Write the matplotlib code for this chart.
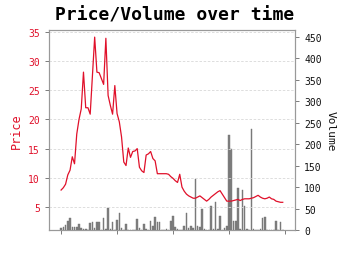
"""Price / volume over time: red price line on the left axis, grey volume bars on a twin axis."""

import numpy as np
import matplotlib
matplotlib.use("Agg")
import matplotlib.pyplot as plt

# ── data ──
price = [
    7.9, 8.3, 8.9, 10.5, 11.3, 13.6, 12.4, 17.5, 20.0, 21.8,
    28.1, 22.0, 22.0, 20.9, 27.5, 34.1, 28.1, 28.0, 27.0, 26.0,
    33.9, 24.1, 22.4, 20.9, 25.8, 21.0, 19.6, 17.0, 12.7, 12.1,
    15.1, 13.5, 14.5, 14.6, 15.0, 11.8, 11.2, 10.9, 13.9, 14.1,
    14.5, 13.3, 12.9, 10.7, 10.7, 10.7, 10.7, 10.7, 10.6, 10.2,
    9.9, 9.5, 9.2, 10.6, 8.4, 7.7, 7.2, 6.9, 6.7, 6.5,
    6.5, 6.7, 6.9, 6.6, 6.3, 6.0, 6.3, 6.7, 7.0, 7.3,
    7.6, 7.8, 7.2, 6.6, 6.0, 6.0, 6.0, 6.1, 6.2, 6.3,
    6.1, 6.3, 6.4, 6.4, 6.4, 6.5, 6.6, 6.8, 7.0, 6.7,
    6.5, 6.4, 6.5, 6.7, 6.4, 6.3, 6.0, 5.9, 5.8, 5.8,
]
volume = [
    5, 6, 12, 20, 27, 8, 6, 6, 14, 5,
    3, 2, 1, 16, 19, 4, 18, 18, 1, 29,
    3, 52, 2, 18, 1, 23, 39, 5, 0, 14,
    1, 0, 0, 1, 25, 5, 1, 14, 2, 1,
    20, 10, 30, 18, 18, 1, 0, 2, 1, 22,
    32, 8, 2, 0, 1, 9, 40, 4, 10, 4,
    118, 10, 6, 48, 3, 0, 1, 55, 3, 66,
    2, 32, 1, 5, 10, 222, 189, 20, 20, 98,
    3, 93, 57, 3, 1, 234, 3, 0, 0, 2,
    29, 30, 0, 0, 0, 0, 20, 0, 18, 0,
]
x_ticks = [0, 25, 50, 75, 100]
price_ticks = [5, 10, 15, 20, 25, 30, 35]
volume_ticks = [0, 50, 100, 150, 200, 250, 300, 350, 400, 450]

RED = "#e0102a"
GREY = "#808080"
SPINE = "#999999"
MONO = "DejaVu Sans Mono"

t = np.arange(len(price))

fig = plt.figure(figsize=(3.5, 2.55), dpi=100)
ax1 = fig.add_axes([0.14, 0.094, 0.703, 0.784])
ax2 = ax1.twinx()

ax2.bar(t, volume, width=0.7, color=GREY, edgecolor="#707070", linewidth=0.3)
ax1.plot(t, price, color=RED, linewidth=0.9)

# line above the bars
ax1.set_zorder(ax2.get_zorder() + 1)
ax1.patch.set_visible(False)

ax1.set_xlim(-5.4, 104.5)
ax1.set_ylim(1.05, 35.3)
ax2.set_ylim(0, 465)

ax1.set_xticks(x_ticks)
ax1.set_xticklabels([])
ax1.set_yticks(price_ticks)
ax2.set_yticks(volume_ticks)

ax1.yaxis.grid(True, linestyle=(0, (3, 2)), color="#d8d8d8", linewidth=0.6)
ax1.set_axisbelow(True)

for ax in (ax1, ax2):
    for sp in ax.spines.values():
        sp.set_color(SPINE)
        sp.set_linewidth(0.8)
    ax.tick_params(length=3, width=0.6, color="#666666", labelsize=7)

for lab in ax1.get_yticklabels():
    lab.set_family(MONO)
    lab.set_color(RED)
for lab in ax2.get_yticklabels():
    lab.set_family(MONO)
    lab.set_color("#111111")

ax1.set_ylabel("Price", color=RED, family=MONO, fontsize=8.5, labelpad=4)
ax2.set_ylabel("Volume", color="#111111", family=MONO, fontsize=8, rotation=270,
               labelpad=10)

fig.suptitle("Price/Volume over time", family=MONO, fontweight="bold",
             fontsize=13, x=0.5, y=0.975)

fig.savefig("out.png", dpi=100)
